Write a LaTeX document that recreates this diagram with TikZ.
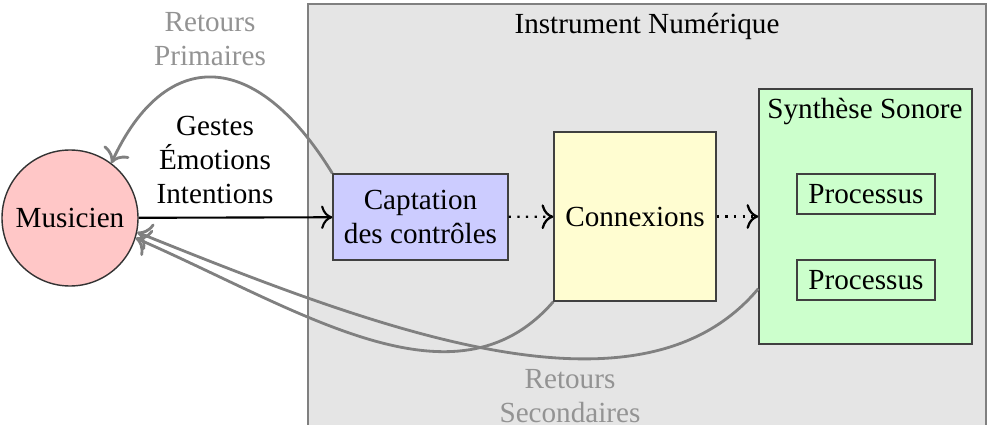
\documentclass[tikz,border=0pt]{standalone}
\usepackage{fontspec}
\setmainfont{Liberation Serif}
\usetikzlibrary{calc,arrows.meta}

\tikzset{
  bloc/.style={draw=black!75, line width=0.8pt, align=center},
  retour/.style={->, draw=gray, line width=1.6pt},
  etiq/.style={text=gray!85, align=center},
  flux/.style={->, line width=1.3pt, dash pattern=on 1.3pt off 3.6pt},
}

\begin{document}
\begin{tikzpicture}[>={To[scale=1.5]}, every node/.style={font=\fontsize{16.6}{19.5}\selectfont}]
\useasboundingbox (0,0) rectangle (19.82,8.48);
% l'instrument
\draw[fill=gray!20, draw=gray, line width=1.2pt] (6.16,-0.5) rectangle (19.72,8.40);
\node (instr) at (12.94,7.96) {Instrument Numérique};

\node[circle, draw=black!80, line width=0.8pt, fill=red!22, minimum size=2.72cm, inner sep=0pt] (mus) at (1.40,4.12) {Musicien};
\node[bloc, fill=blue!20, minimum width=3.5cm, minimum height=1.72cm] (capt) at (8.41,4.14) {Captation\\des contrôles};
\node[bloc, fill=yellow!18, minimum width=3.24cm, minimum height=3.38cm] (conn) at (12.70,4.15) {Connexions};
\node[bloc, fill=green!20, minimum width=4.26cm, minimum height=5.1cm] (synth) at (17.31,4.15) {};
\node (synthtitre) at (17.30,6.24) {Synthèse Sonore};
\node[bloc, minimum width=2.76cm, minimum height=0.8cm, inner sep=1pt] (proc1) at (17.32,4.60) {Processus};
\node[bloc, minimum width=2.76cm, minimum height=0.8cm, inner sep=1pt] (proc2) at (17.32,2.88) {Processus};

% gestes
\node[align=center] (gestes) at (4.30,5.28) {Gestes\\Émotions\\Intentions};
\draw[->, line width=1.2pt] (mus) -- (capt);
\draw[flux] (capt) -- (conn);
\draw[flux] (conn) -- (synth);

% retours
\node[etiq] (rprim) at (4.20,7.70) {Retours\\Primaires};
\node[etiq] (rsec) at (11.40,0.56) {Retours\\Secondaires};
\draw[retour] (capt.north west) .. controls (5.10,7.54) and (3.30,7.54) .. (mus.53);
\draw[retour] (conn.south west) .. controls (9.10,0.18) and (6.00,2.28) .. (mus.-17);
\coordinate (sortie) at ($(synth.south west)+(0,1.12)$);
\draw[retour] (sortie) .. controls (12.80,-0.12) and (7.60,1.88) .. (mus.-12);
\end{tikzpicture}
\end{document}
